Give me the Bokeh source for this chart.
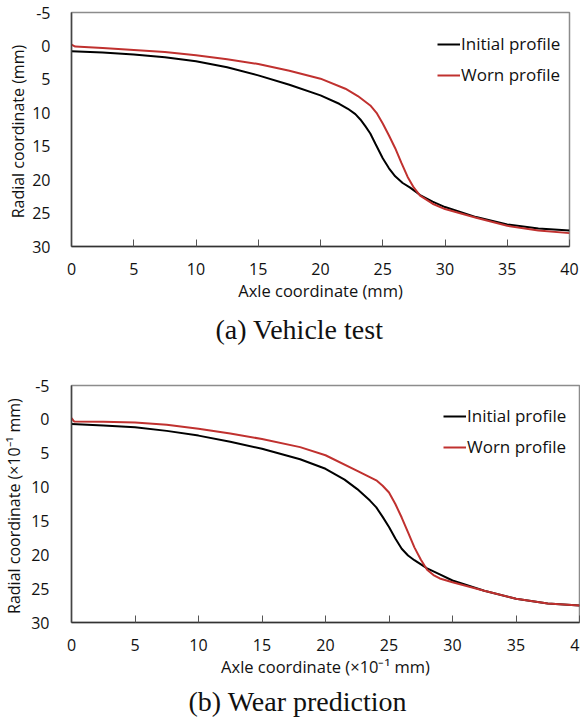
from bokeh.plotting import figure
from bokeh.layouts import column
from bokeh.models import Range1d, FixedTicker, Legend, LegendItem, Title
from bokeh.embed import file_html
from bokeh.resources import INLINE

# ---- (a) Vehicle test ----
a_x_initial = [0, 2.5, 5, 7.5, 10, 12.5, 15, 17.5, 20, 21.5, 22.2, 22.8, 23.2, 23.6, 24, 24.4, 25, 25.5, 26, 26.6, 27.2, 28, 29, 30, 32.5, 35, 37.5, 40]
a_y_initial = [0.8, 1.0, 1.3, 1.7, 2.3, 3.2, 4.4, 5.8, 7.4, 8.65, 9.4, 10.2, 11.0, 12.0, 13.1, 14.6, 16.8, 18.3, 19.5, 20.5, 21.2, 22.3, 23.3, 24.1, 25.6, 26.7, 27.3, 27.6]
a_x_worn = [0, 0.3, 2.5, 5, 7.5, 10, 12.5, 15, 17.5, 20, 22, 23, 24, 24.5, 25, 25.5, 26, 26.5, 27, 27.5, 28, 29, 30, 32.5, 35, 37.5, 40]
a_y_worn = [-0.2, 0.1, 0.3, 0.6, 0.9, 1.4, 2.0, 2.7, 3.7, 4.9, 6.4, 7.5, 8.9, 10.0, 11.6, 13.4, 15.3, 17.5, 19.6, 21.2, 22.4, 23.6, 24.4, 25.7, 26.9, 27.6, 28.0]

# ---- (b) Wear prediction ----
b_x_initial = [0, 2.5, 5, 7.5, 10, 12.5, 15, 18, 20, 21.5, 22.5, 23.5, 24, 24.5, 25, 25.5, 26, 26.5, 27, 28, 29, 30, 32.5, 35, 37.5, 40]
b_y_initial = [0.7, 0.9, 1.15, 1.7, 2.4, 3.3, 4.35, 5.9, 7.3, 8.9, 10.3, 12.0, 13.0, 14.4, 15.9, 17.6, 19.1, 20.1, 20.8, 22.0, 22.9, 23.8, 25.3, 26.5, 27.2, 27.5]
b_x_worn = [0, 0.2, 2.5, 5, 7.5, 10, 12.5, 15, 18, 20, 22.5, 24, 24.5, 25, 25.5, 26, 26.5, 27, 27.5, 28, 28.5, 29, 30, 32.5, 35, 37.5, 40]
b_y_worn = [-0.2, 0.3, 0.35, 0.45, 0.8, 1.4, 2.1, 2.9, 4.1, 5.3, 7.6, 9.0, 9.8, 10.8, 12.5, 14.5, 16.7, 18.9, 20.7, 22.2, 23.0, 23.5, 24.05, 25.3, 26.5, 27.2, 27.5]

x_ticks = [0, 5, 10, 15, 20, 25, 30, 35, 40]
y_ticks = [-5, 0, 5, 10, 15, 20, 25, 30]
y_tick_labels = {-5: "-5"}

BLACK = "#000000"
RED = "#c0312f"
SANS = "Open Sans"
SERIF = "Liberation Serif"


def make_panel(xi, yi, xw, yw, xlabel, ylabel, caption, borders, width, height,
               legend_loc, cap_standoff, cap_offset, ylab_standoff, ytick_standoff):
    left, right, top, bottom = borders
    p = figure(width=width, height=height, output_backend="svg", toolbar_location=None,
               x_range=Range1d(0, 40), y_range=Range1d(30, -5),
               min_border_left=left, min_border_right=right,
               min_border_top=top, min_border_bottom=bottom)
    p.xgrid.visible = False
    p.ygrid.visible = False
    p.outline_line_color = "#8c8c8c"
    p.outline_line_width = 1.5
    p.background_fill_color = "white"
    p.border_fill_color = "white"

    r1 = p.line(xi, yi, line_color=BLACK, line_width=2)
    r2 = p.line(xw, yw, line_color=RED, line_width=2)

    xa = p.xaxis[0]
    xa.ticker = FixedTicker(ticks=x_ticks)
    xa.axis_line_color = "#333333"
    xa.axis_line_width = 1.5
    xa.major_tick_in = 7
    xa.major_tick_out = 0
    xa.major_tick_line_color = "#555555"
    xa.minor_tick_line_color = None
    xa.major_label_text_font = SANS
    xa.major_label_text_font_size = "16px"
    xa.major_label_text_color = "#111111"
    xa.major_label_standoff = 16
    xa.axis_label = xlabel
    xa.axis_label_text_font = SANS
    xa.axis_label_text_font_size = "16.5px"
    xa.axis_label_text_font_style = "normal"
    xa.axis_label_text_color = "#111111"
    xa.axis_label_standoff = 1

    ya = p.yaxis[0]
    ya.ticker = FixedTicker(ticks=y_ticks)
    ya.major_label_overrides = y_tick_labels
    ya.axis_line_color = "#444444"
    ya.axis_line_width = 1.5
    ya.major_tick_line_color = None
    ya.minor_tick_line_color = None
    ya.major_label_text_font = SANS
    ya.major_label_text_font_size = "16px"
    ya.major_label_text_color = "#111111"
    ya.major_label_standoff = ytick_standoff
    ya.axis_label = ylabel
    ya.axis_label_text_font = SANS
    ya.axis_label_text_font_size = "16px"
    ya.axis_label_text_font_style = "normal"
    ya.axis_label_text_color = "#111111"
    ya.axis_label_standoff = ylab_standoff

    legend = Legend(items=[LegendItem(label="Initial profile", renderers=[r1]),
                           LegendItem(label="Worn profile", renderers=[r2])],
                    location=legend_loc, background_fill_alpha=0, border_line_color=None,
                    label_text_font=SANS, label_text_font_size="17px",
                    label_text_color="#111111",
                    glyph_width=23, glyph_height=20, label_height=20, label_standoff=1,
                    spacing=8, padding=0, margin=0)
    p.add_layout(legend, "center")

    cap = Title(text=caption, align="left", text_font=SERIF, text_font_size="28px",
                text_font_style="normal", text_color="#111111", standoff=cap_standoff,
                offset=cap_offset)
    p.add_layout(cap, "below")
    return p


pa = make_panel(a_x_initial, a_y_initial, a_x_worn, a_y_worn,
                "Axle coordinate (mm)", "Radial  coordinate (mm)", "(a) Vehicle test",
                (66, 11, 12, 116), 580, 362, (366, 160), 14, 144, 0, 15)
pb = make_panel(b_x_initial, b_y_initial, b_x_worn, b_y_worn,
                "Axle coordinate (×10⁻¹ mm)", "Radial  coordinate (×10⁻¹ mm)", "(b) Wear prediction",
                (71, 11, 23, 102), 590, 362, (372, 164), 6, 117, 3, 16)

layout = column(pa, pb, spacing=0)
html = file_html(layout, INLINE)
html = html.replace("</head>", "<style>html, body { overflow: hidden; margin: 0; }</style></head>", 1)
open("out.html", "w").write(html)
